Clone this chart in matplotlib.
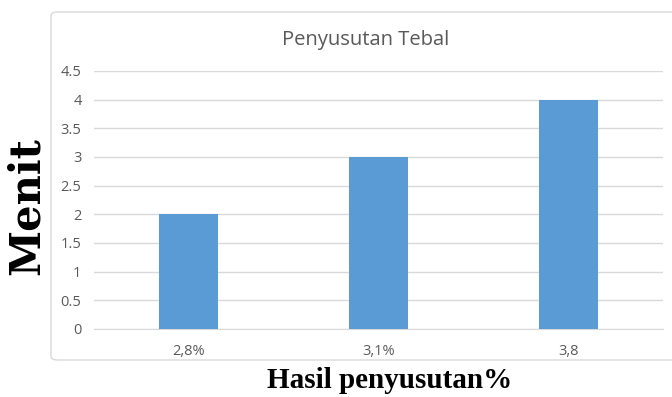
import matplotlib
matplotlib.use("Agg")
import matplotlib.pyplot as plt
from matplotlib.patches import FancyBboxPatch

categories = ["2,8%", "3,1%", "3,8"]
values = [2, 3, 4]
yticks = [0, 0.5, 1, 1.5, 2, 2.5, 3, 3.5, 4, 4.5]
ytick_labels = ["0", "0.5", "1", "1.5", "2", "2.5", "3", "3.5", "4", "4.5"]

W, H = 672, 397
fig = plt.figure(figsize=(W/100, H/100), dpi=100)
fig.patch.set_facecolor("white")

# chart frame
frame = FancyBboxPatch((51/W, 1-360/H), (680-51)/W, (360-12)/H,
                       boxstyle="round,pad=0,rounding_size=0.01",
                       transform=fig.transFigure, fill=False,
                       edgecolor="#d9d9d9", linewidth=1.0)
fig.patches.append(frame)

ax = fig.add_axes([94/W, 1-329/H, (663-94)/W, (329-71)/H])
x = list(range(len(categories)))
ax.bar(x, values, width=0.31, color="#5B9BD5", zorder=3)
ax.set_xlim(-0.5, len(categories)-0.5)
ax.set_ylim(0, 4.5)
ax.set_yticks(yticks)
ax.set_yticklabels(ytick_labels, fontfamily="Open Sans", fontsize=10.5)
ax.set_xticks(x)
ax.set_xticklabels(categories, fontfamily="Open Sans", fontsize=10.5)
ax.yaxis.grid(True, color="#d9d9d9", linewidth=1.0, zorder=0)
ax.set_axisbelow(True)
for s in ["top", "right", "left"]:
    ax.spines[s].set_visible(False)
ax.spines["bottom"].set_color("#d9d9d9")
ax.tick_params(axis="both", length=0, colors="#595959")
ax.tick_params(axis="y", pad=9)
ax.tick_params(axis="x", pad=11)

fig.text(366/W, 1-40/H, "Penyusutan Tebal", ha="center", va="center",
         fontsize=14.5, color="#595959", fontfamily="Open Sans")

fig.text(27/W, 1-206/H, "Menit", rotation=90, ha="center", va="center",
         fontsize=30, fontweight="bold", fontfamily="DejaVu Serif", color="black")
fig.text(390/W, 1-381/H, "Hasil penyusutan%", ha="center", va="center",
         fontsize=21, fontweight="bold", fontfamily="Liberation Serif", color="black")

fig.savefig("out.png", dpi=100)
